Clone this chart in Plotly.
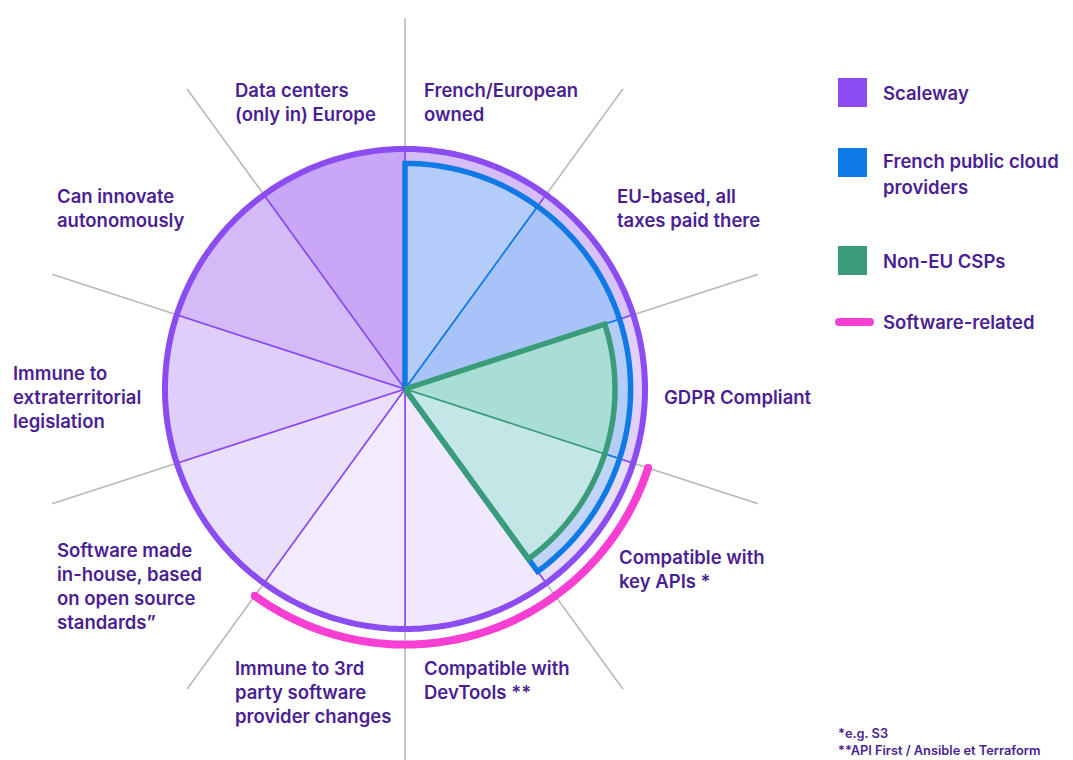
import numpy as np
import plotly.graph_objects as go

# ---------------- data ----------------
criteria = [
    ["French/European", "owned"],
    ["EU-based, all", "taxes paid there"],
    ["GDPR Compliant"],
    ["Compatible with", "key APIs *"],
    ["Compatible with", "DevTools **"],
    ["Immune to 3rd", "party software", "provider changes"],
    ["Software made", "in-house, based", "on open source", "standards\u201d"],
    ["Immune to", "extraterritorial", "legislation"],
    ["Can innovate", "autonomously"],
    ["Data centers", "(only in) Europe"],
]
scaleway_met = [1, 1, 1, 1, 1, 1, 1, 1, 1, 1]
french_met = [1, 1, 1, 1, 0, 0, 0, 0, 0, 0]
noneu_met = [0, 0, 1, 1, 0, 0, 0, 0, 0, 0]
software_related = [0, 0, 0, 1, 1, 1, 0, 0, 0, 0]
series_names = ["Scaleway", "French public cloud providers", "Non-EU CSPs", "Software-related"]
footnotes = ["*e.g. S3", "**API First / Ansible et Terraform"]

# ---------------- styles ----------------
TXT = "#4a1f93"
FONT = "Inter"
FS = 18.5
PURPLE = "#8b4cf1"
BLUE = "#0f7ae5"
GREEN = "#3a9c78"
PINK = "#f83fd4"
GRAY = "#b9b9b9"
scaleway_fill = ["#d4bdf8", "#d8c3f8", "#e0d0fa", "#e8dcfb", "#f0e9fd",
                 "#f1ebfd", "#eae0fc", "#dfcefa", "#d4bbf8", "#c9a7f6"]
french_fill = ["#b4ccf9", "#a7c3f7", "#b3ccf8", "#bfd4f8"]
noneu_fill = ["#a9ded7", "#c3e7e6"]

R_S, R_F, R_N, R_P, R_G = 1.0, 0.94, 0.875, 1.065, 1.6
n = len(criteria)
step = 360 / n
centers = [step * i + step / 2 for i in range(n)]

fig = go.Figure()

def idx(mask):
    return [i for i, m in enumerate(mask) if m]

# gray spokes outside the circle
gr, gt = [], []
for i in range(n):
    gr += [R_S, R_G, None]
    gt += [step * i, step * i, None]
fig.add_trace(go.Scatterpolar(r=gr, theta=gt, mode="lines",
                              line=dict(color=GRAY, width=1.6), hoverinfo="skip", showlegend=False))

# fills
si = idx(scaleway_met)
fig.add_trace(go.Barpolar(r=[R_S] * len(si), theta=[centers[i] for i in si], width=[step] * len(si),
                          marker=dict(color=[scaleway_fill[i] for i in si], line=dict(color=PURPLE, width=1.6)),
                          name=series_names[0], showlegend=False))
fi = idx(french_met)
fig.add_trace(go.Barpolar(r=[R_F] * len(fi), theta=[centers[i] for i in fi], width=[step] * len(fi),
                          marker=dict(color=french_fill, line=dict(color=BLUE, width=1.6)),
                          name=series_names[1], showlegend=False))
ni = idx(noneu_met)
fig.add_trace(go.Barpolar(r=[R_N] * len(ni), theta=[centers[i] for i in ni], width=[step] * len(ni),
                          marker=dict(color=noneu_fill, line=dict(color=GREEN, width=1.6)),
                          name=series_names[2], showlegend=False))

def outline(indices, radius):
    a0 = min(indices) * step
    a1 = (max(indices) + 1) * step
    arc = list(np.linspace(a0, a1, 200))
    return [0, radius] + [radius] * len(arc) + [radius, 0], [a0, a0] + arc + [a1, a1]

# Scaleway outer circle
circ = list(np.linspace(0, 360, 400))
fig.add_trace(go.Scatterpolar(r=[R_S] * len(circ), theta=circ, mode="lines",
                              line=dict(color=PURPLE, width=6), hoverinfo="skip", showlegend=False))
r_, t_ = outline(fi, R_F)
fig.add_trace(go.Scatterpolar(r=r_, theta=t_, mode="lines",
                              line=dict(color=BLUE, width=5.5), hoverinfo="skip", showlegend=False))
r_, t_ = outline(ni, R_N)
fig.add_trace(go.Scatterpolar(r=r_, theta=t_, mode="lines",
                              line=dict(color=GREEN, width=5.5), hoverinfo="skip", showlegend=False))

# software-related arc
pi = idx(software_related)
pa = list(np.linspace(min(pi) * step, (max(pi) + 1) * step, 200))
fig.add_trace(go.Scatterpolar(r=[R_P] * len(pa), theta=pa, mode="lines",
                              line=dict(color=PINK, width=8), hoverinfo="skip", showlegend=False))
fig.add_trace(go.Scatterpolar(r=[R_P, R_P], theta=[pa[0], pa[-1]], mode="markers",
                              marker=dict(color=PINK, size=8, line=dict(width=0)),
                              hoverinfo="skip", showlegend=False))

W, H = 1073, 760
cx, cy, unit = 405, 389, 240
half = 371
annotations = []
shapes = []

def px(x):
    return x / W

def py(y):
    return 1 - y / H

# criteria labels (left edge x, first-line centre y)
label_pos = [(424, 90), (617, 196), (664, 397), (619, 557), (424, 668),
             (235, 668), (57, 550), (13, 373), (57, 196), (235, 90)]
LS = 24
for lines, (lx, ly) in zip(criteria, label_pos):
    for k, line in enumerate(lines):
        annotations.append(dict(x=px(lx - 2), y=py(ly + k * LS), xref="paper", yref="paper",
                                text=line, showarrow=False, xanchor="left", yanchor="middle",
                                font=dict(family=FONT, size=FS, color=TXT, weight=600)))

# legend
leg_sq = [(78, PURPLE), (148, BLUE), (246, GREEN)]
for y0, col in leg_sq:
    shapes.append(dict(type="rect", xref="paper", yref="paper", x0=px(838), x1=px(867),
                       y0=py(y0), y1=py(y0 + 29), fillcolor=col, line=dict(width=0)))
shapes.append(dict(type="line", xref="paper", yref="paper", x0=px(839), x1=px(870),
                   y0=py(322), y1=py(322), line=dict(color=PINK, width=8)))
for xx in (839, 870):
    shapes.append(dict(type="circle", xref="paper", yref="paper", x0=px(xx - 4), x1=px(xx + 4),
                       y0=py(326), y1=py(318), fillcolor=PINK, line=dict(width=0)))
leg_text = [([series_names[0]], 93), (["French public cloud", "providers"], 161),
            ([series_names[2]], 261), ([series_names[3]], 322)]
for lines, ly in leg_text:
    for k, line in enumerate(lines):
        annotations.append(dict(x=px(881), y=py(ly + k * 26), xref="paper", yref="paper",
                                text=line, showarrow=False, xanchor="left", yanchor="middle",
                                font=dict(family=FONT, size=FS, color=TXT, weight=600)))

for k, t in enumerate(footnotes):
    annotations.append(dict(x=px(836), y=py(733 + k * 17), xref="paper", yref="paper",
                            text=t, showarrow=False, xanchor="left", yanchor="middle",
                            font=dict(family=FONT, size=12.8, color=TXT, weight=600)))

fig.update_layout(
    width=W, height=H,
    margin=dict(l=0, r=0, t=0, b=0),
    paper_bgcolor="white", plot_bgcolor="white",
    showlegend=False,
    polar=dict(
        domain=dict(x=[(cx - half) / W, (cx + half) / W], y=[(H - cy - half) / H, (H - cy + half) / H]),
        bgcolor="rgba(0,0,0,0)",
        bargap=0,
        barmode="overlay",
        radialaxis=dict(visible=False, range=[0, half / unit]),
        angularaxis=dict(visible=False, rotation=90, direction="clockwise"),
    ),
    annotations=annotations,
    shapes=shapes,
)

fig.write_html("out.html", config={"displayModeBar": False},
               post_script="document.body.style.margin='0px';")
